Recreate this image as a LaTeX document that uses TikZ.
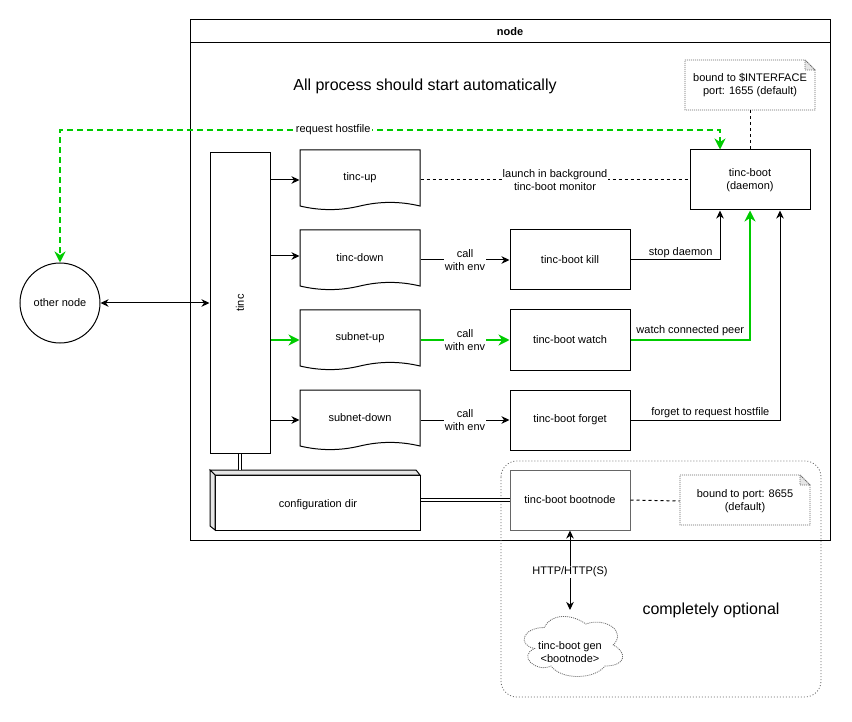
\documentclass[tikz,border=0pt]{standalone}
\usepackage{fontspec}
\setmainfont{Liberation Sans}
\usetikzlibrary{arrows.meta,calc}
\definecolor{dgreen}{HTML}{00CC00}
\definecolor{ngray}{HTML}{666666}
\definecolor{sgray}{HTML}{E6E6E6}
\tikzset{
  gtip/.tip={Stealth[length=11pt,width=11pt,inset=3.5pt]},
  box/.style={draw,minimum width=120pt,minimum height=60pt,inner sep=0pt,align=center,fill=white},
  docnode/.style={minimum width=120pt,minimum height=56pt,inner sep=0pt,align=center},
  docline/.style={draw,fill=white},
  notebd/.style={draw=ngray,dash pattern=on 1pt off 1pt,line width=0.8pt},
  lbl/.style={fill=white,inner sep=1pt,align=center,text=black},
  uplbl/.style={anchor=south,inner sep=2pt,text=black},
  dashln/.style={dash pattern=on 3pt off 3pt},
  garr/.style={draw=dgreen,line width=2pt,-gtip},
  gdash/.style={draw=dgreen,line width=2pt,dash pattern=on 6pt off 4pt,gtip-gtip},
  dbl/.style={double,double distance=2.4pt,line width=0.9pt},
  bigtxt/.style={font=\fontsize{16}{19}\selectfont}
}
\newcommand{\mkdoc}[4]{%
  \draw[docline,shift={(#2,#3)}] (0,0) -- (120,0) -- (120,56) .. controls (100,51.2) and (80,51.2) .. (60,56) .. controls (40,60.8) and (20,60.8) .. (0,56) -- cycle;
  \node[docnode] (#1) at (#2+60,#3+28) {#4};%
}
\begin{document}
\begin{tikzpicture}[x=1pt,y=-1pt,line width=1pt,
  font=\fontsize{11}{13}\selectfont,
  >={Stealth[length=8pt,width=7.5pt,inset=2.5pt]}]
\useasboundingbox (0,0) rectangle (852,722);

% container
\draw (190,20) rectangle (830,540);
\draw (190,43) -- (830,43);
\node[font=\fontsize{11}{13}\selectfont\bfseries] (hdr) at (510,31.5) {node};
\node[bigtxt] (title) at (425,86) {All process should start automatically};

% optional region
\draw[draw=ngray,dash pattern=on 1pt off 2pt,line width=0.8pt,rounded corners=16pt] (501,461) rectangle (821,697);
\node[bigtxt] (opt) at (711,610) {completely optional};

% note 1
\draw[notebd] (685,60) -- (805,60) -- (815,70) -- (815,110) -- (685,110) -- cycle;
\draw[notebd,fill=sgray] (805,60) -- (805,70) -- (815,70) -- cycle;
\node[minimum width=130pt,minimum height=50pt,inner sep=0pt,align=center] (n1) at (750,85) {bound to \$INTERFACE\\port: 1655 (default)};

% daemon
\node[box] (daemon) at (750,180) {tinc-boot\\(daemon)};
\draw[dashln] (n1.south) -- (daemon.north);

% tinc
\node[box,minimum width=60pt,minimum height=300pt] (tinc) at (240,303) {};
\node[rotate=90] (tinclbl) at (240,303) {tinc};

% documents
\mkdoc{tincup}{300}{150}{tinc-up}
\mkdoc{tincdown}{300}{230}{tinc-down}
\mkdoc{subup}{300}{310}{subnet-up}
\mkdoc{subdown}{300}{390}{subnet-down}

% boxes
\node[box] (kill) at (570,260) {tinc-boot kill};
\node[box] (watch) at (570,340) {tinc-boot watch};
\node[box] (forget) at (570,420) {tinc-boot forget};

% tinc -> documents
\coordinate (a1) at ([yshift=-2pt]tincup.west);
\coordinate (a2) at ([yshift=2pt]tincdown.west);
\coordinate (a3) at ([yshift=-2pt]subup.west);
\coordinate (a4) at ([yshift=-2pt]subdown.west);
\draw[->] (tinc.east |- a1) -- (a1);
\draw[->] (tinc.east |- a2) -- (a2);
\draw[garr] (tinc.east |- a3) -- (a3);
\draw[->] (tinc.east |- a4) -- (a4);

% documents -> boxes
\draw[dashln] (tincup.east |- daemon.west) -- node[lbl]{launch in background\\tinc-boot monitor} (daemon.west);
\draw[->] (tincdown.east |- kill.west) -- node[lbl]{call\\with env} (kill.west);
\draw[garr] (subup.east |- watch.west) -- node[lbl]{call\\with env} (watch.west);
\draw[->] (subdown.east |- forget.west) -- node[lbl]{call\\with env} (forget.west);

% boxes -> daemon
\draw[->] (kill.east) -| node[uplbl,pos=0.28]{stop daemon} ([xshift=-30pt]daemon.south);
\draw[garr] (watch.east) -| node[uplbl,pos=0.25,yshift=1pt]{watch connected peer} (daemon.south);
\draw[->] (forget.east) -| node[uplbl,pos=0.267]{forget to request hostfile} ([xshift=30pt]daemon.south);

% other node
\node[circle,draw,minimum size=80pt,inner sep=0pt] (other) at (60,303) {other node};
\draw[<->] (other) -- (tinc);
\coordinate (rq) at (60,130);
\draw[gdash] ([xshift=-30pt]daemon.north) |- node[lbl,pos=0.793]{request hostfile} (rq) -- (other.north);

% configuration dir
\node[minimum width=210pt,minimum height=60pt,inner sep=0pt] (cfg) at (315,500) {};
\filldraw[fill=white] (215,475) rectangle (420,530);
\filldraw[fill=sgray] (210,470) -- (416,470) -- (420,475) -- (215,475) -- cycle;
\filldraw[fill=sgray] (210,470) -- (215,475) -- (215,530) -- (210,526) -- cycle;
\node (cfgtxt) at (318,505) {configuration dir};

% bootnode
\node[box,draw=ngray] (boot) at (570,500) {tinc-boot bootnode};
\draw[dbl] (tinc.south) -- (tinc.south |- cfg.north);
\draw[dbl] (cfg.east) -- (boot.west);

% note 2
\draw[notebd] (680,475) -- (800,475) -- (810,485) -- (810,525) -- (680,525) -- cycle;
\draw[notebd,fill=sgray] (800,475) -- (800,485) -- (810,485) -- cycle;
\node[minimum width=130pt,minimum height=50pt,inner sep=0pt,align=center] (n2) at (745,501) {bound to port: 8655\\(default)};
\draw[dashln] (boot.east) -- (n2.west);

% cloud
\draw[notebd] (544.5,627.5) .. controls (522.5,627.5) and (517,645) .. (534.6,648.5)
  .. controls (517,656.2) and (536.8,673) .. (551.1,666)
  .. controls (561,680) and (594,680) .. (605,666)
  .. controls (627,666) and (627,652) .. (613.25,645)
  .. controls (627,631) and (605,617) .. (585.75,624)
  .. controls (572,613.5) and (550,613.5) .. (544.5,627.5) -- cycle;
\node[align=center] (gen) at (570,652) {tinc-boot gen\\<bootnode>};
\coordinate (cloudtop) at (570,610);
\draw[<->] (boot.south) -- node[lbl,pos=0.52]{HTTP/HTTP(S)} (cloudtop);
\end{tikzpicture}
\end{document}
